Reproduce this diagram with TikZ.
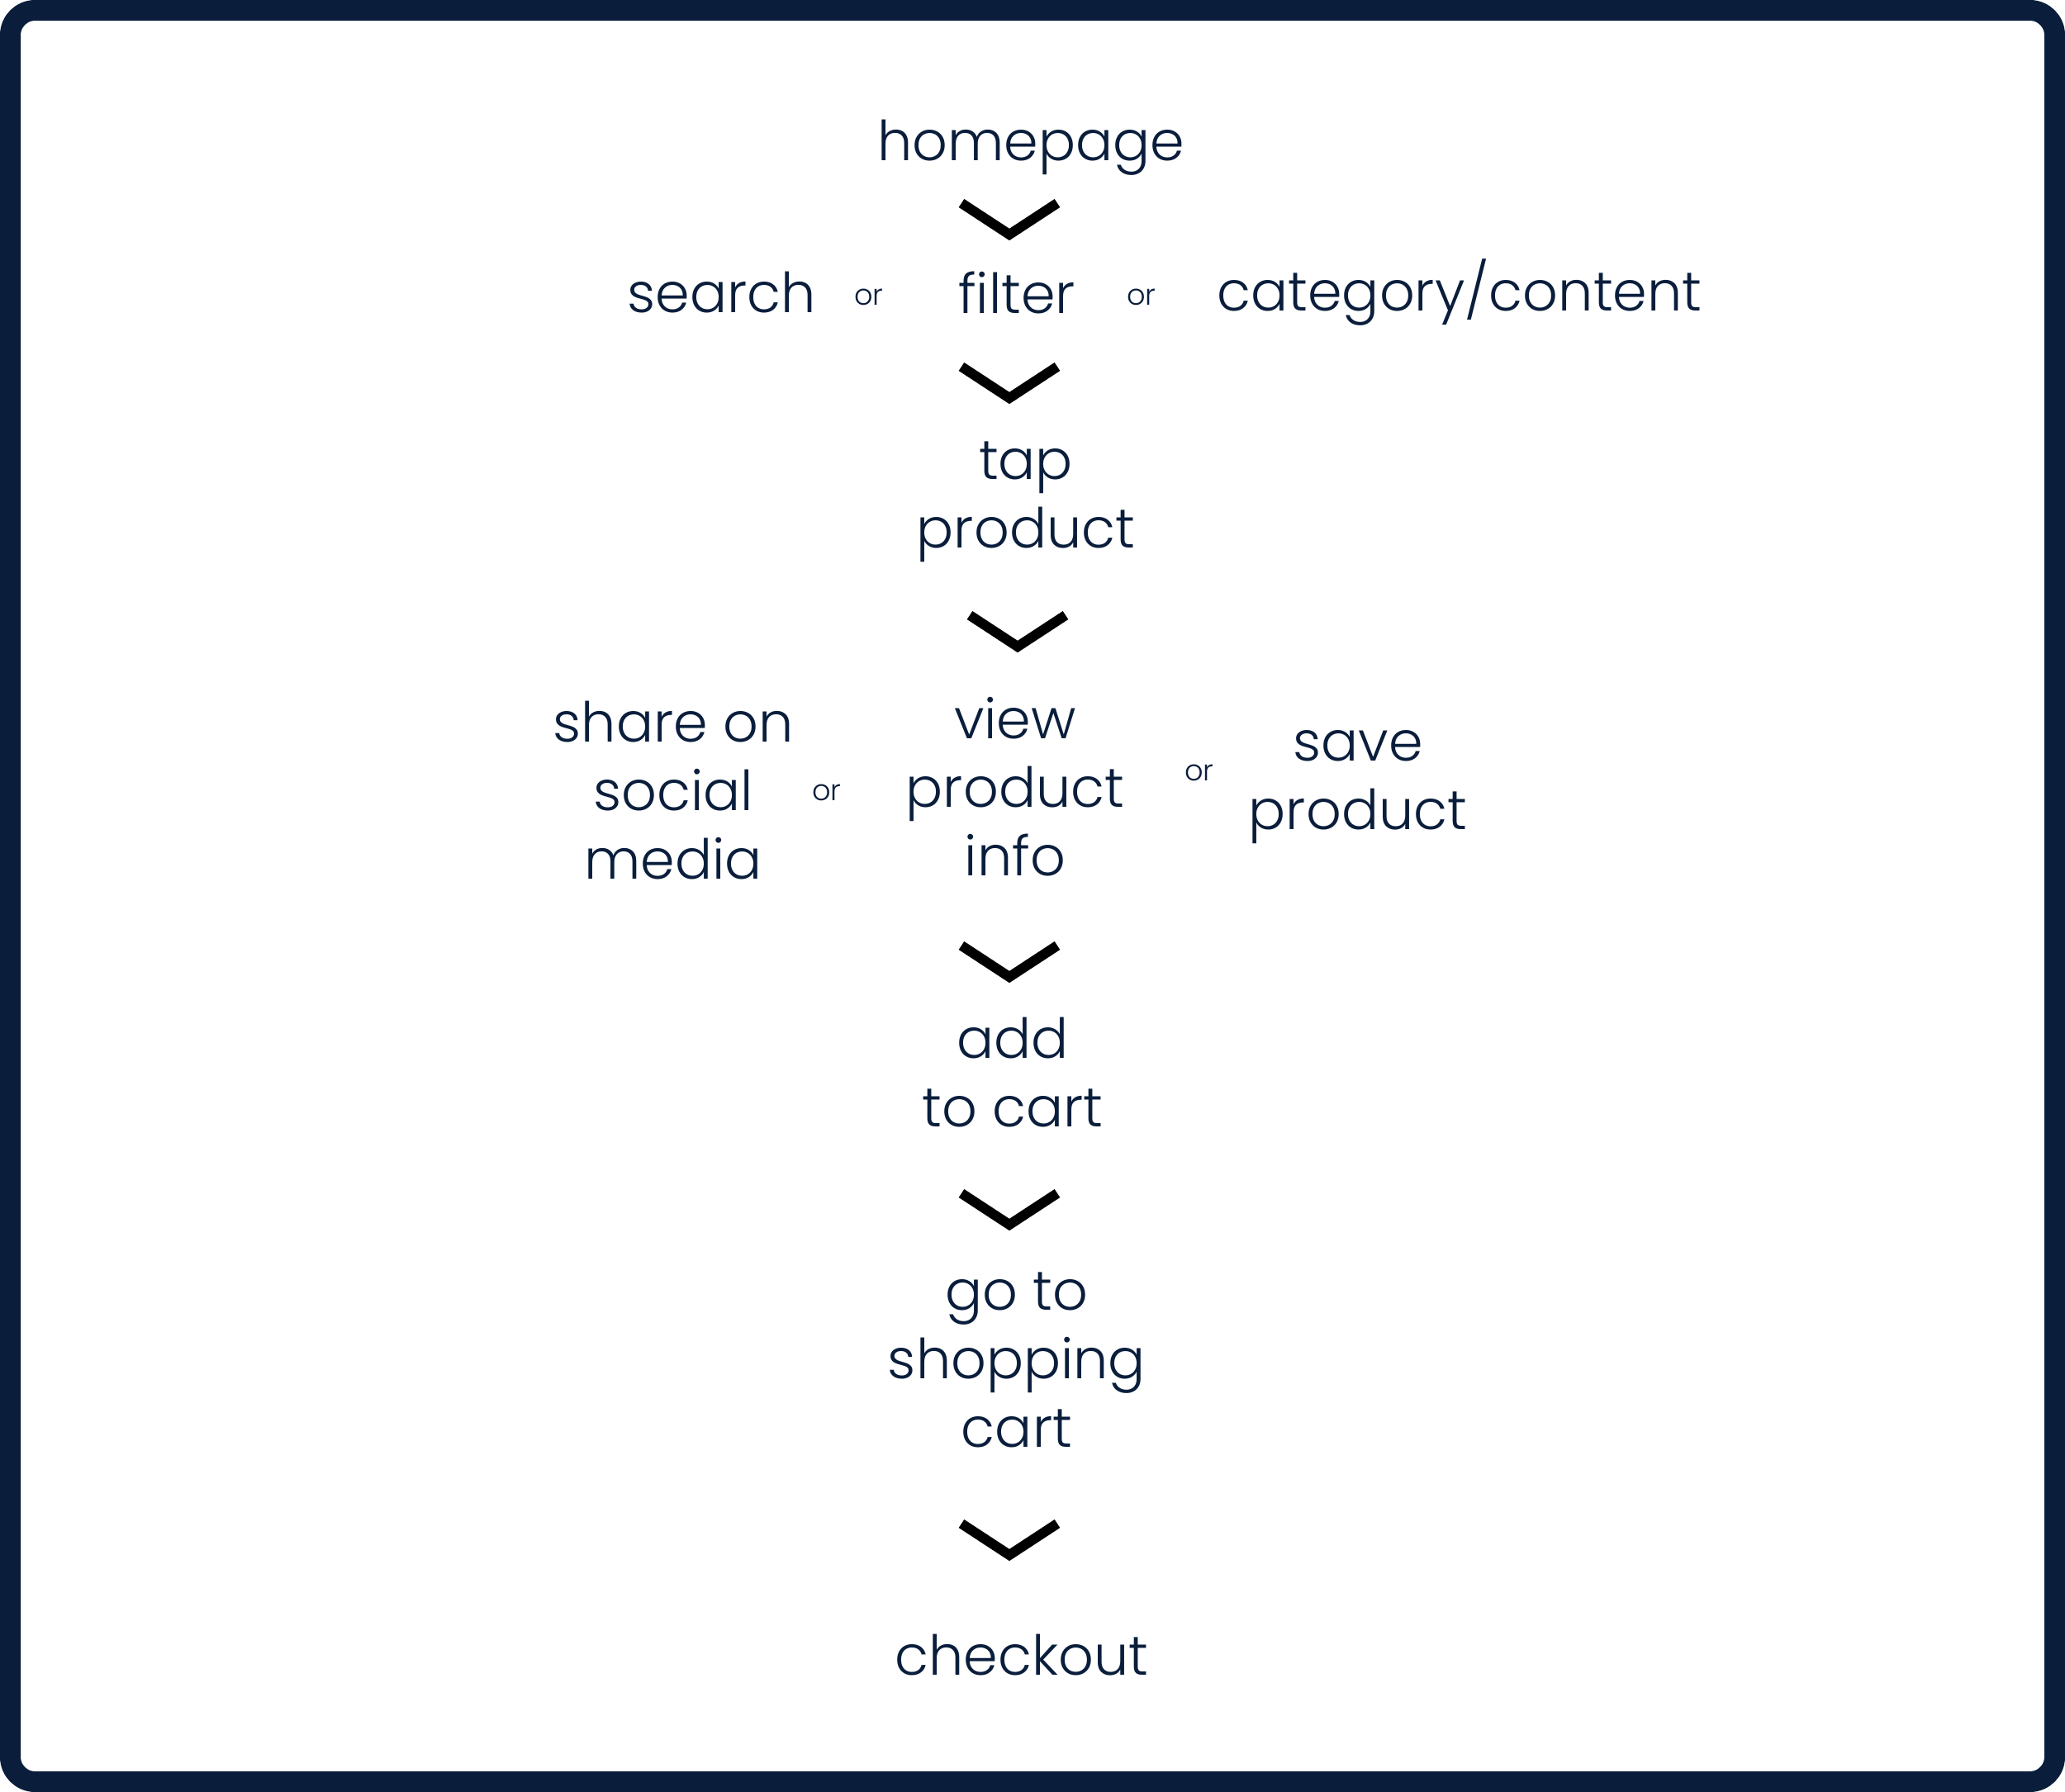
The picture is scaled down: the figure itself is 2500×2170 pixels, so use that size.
\documentclass[tikz,border=0pt]{standalone}
\usepackage{fontspec}
\setmainfont{Poppins}[UprightFont=* Light]
\definecolor{navy}{HTML}{0A1E3C}

\begin{document}
\begin{tikzpicture}
	[x=0.01cm,y=-0.01cm,
		stage/.style={text=navy,align=center,inner sep=0pt,font=\fontsize{19}{23.6}\selectfont},
		or node/.style={text=navy,inner sep=0pt,font=\fontsize{10}{12}\selectfont},
		chevron/.style={draw=black,line width=0.12cm,miter limit=10}]

	\useasboundingbox (0,0) rectangle (2500,2170);
	\draw[navy,line width=0.25cm,rounded corners=0.3cm] (12.5,12.5) rectangle (2487.5,2157.5);

	% steps
	\node[stage] (home)     at (1248,179)  {homepage};
	\node[stage] (search)   at (874,354)   {search};
	\node[or node] (or1)    at (1052,360)  {or};
	\node[stage] (filter)   at (1231,354)  {filter};
	\node[or node] (or2)    at (1382,360)  {or};
	\node[stage] (category) at (1767,354)  {category/content};
	\node[stage] (tap)      at (1242,608)  {tap\\product};
	\node[stage] (share)    at (815,957)   {share on\\social\\media};
	\node[or node] (or3)    at (1001,960)  {or};
	\node[stage] (view)     at (1229,953)  {view\\product\\info};
	\node[or node] (or4)    at (1452,936)  {or};
	\node[stage] (save)     at (1644,953)  {save\\product};
	\node[stage] (add)      at (1226,1299) {add\\to cart};
	\node[stage] (goto)     at (1231,1647) {go to\\shopping\\cart};
	\node[stage] (checkout) at (1237,2004) {checkout};

	% chevrons between steps
	\coordinate (ch1) at (1222,265);
	\coordinate (ch2) at (1222,463);
	\coordinate (ch3) at (1232,764);
	\coordinate (ch4) at (1222,1164);
	\coordinate (ch5) at (1222,1464);
	\coordinate (ch6) at (1222,1864);

	\foreach \c in {ch1,ch2,ch3,ch4,ch5,ch6}
		\draw[chevron] (\c) ++(-58,-19) -- ++(58,38) -- ++(58,-38);

\end{tikzpicture}
\end{document}
